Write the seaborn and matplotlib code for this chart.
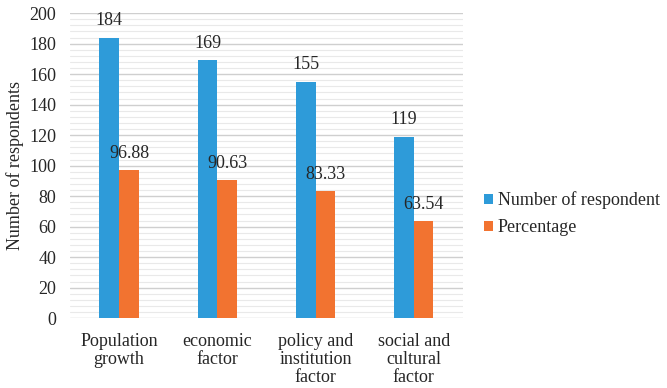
import pandas as pd
import matplotlib.pyplot as plt
import seaborn as sns
from matplotlib.ticker import MultipleLocator

# --- data ---
CATEGORIES = [
    "Population\ngrowth",
    "economic\nfactor",
    "policy and\ninstitution\nfactor",
    "social and\ncultural\nfactor",
]
RESPONDENTS = [184, 169, 155, 119]
PERCENTAGE = [96.88, 90.63, 83.33, 63.54]
SERIES = ["Number of respondent", "Percentage"]

# --- style ---
COLORS = ["#2E9BD9", "#F27330"]
TEXT_COLOR = "#262626"
FS = 13


def main():
    sns.set_style("white")
    plt.rcParams["font.family"] = "serif"
    plt.rcParams["font.serif"] = ["Liberation Serif", "DejaVu Serif"]
    plt.rcParams["text.color"] = TEXT_COLOR

    df = pd.DataFrame({
        "category": CATEGORIES * 2,
        "value": RESPONDENTS + PERCENTAGE,
        "series": [SERIES[0]] * len(CATEGORIES) + [SERIES[1]] * len(CATEGORIES),
    })

    fig = plt.figure(figsize=(6.67, 3.88), dpi=100)
    ax = fig.add_axes([0.105, 0.18, 0.589, 0.786])

    sns.barplot(
        data=df, x="category", y="value", hue="series",
        palette=COLORS, width=0.4, gap=0, saturation=1,
        edgecolor="none", ax=ax, zorder=3,
    )

    for cont, fmt in zip(ax.containers, ["{:.0f}", "{:.2f}"]):
        ax.bar_label(cont, labels=[fmt.format(v) for v in cont.datavalues],
                     padding=6, fontsize=FS, color=TEXT_COLOR)

    ax.set_ylim(0, 200)
    ax.set_xlim(-0.5, 3.5)
    ax.yaxis.set_major_locator(MultipleLocator(20))
    ax.yaxis.set_minor_locator(MultipleLocator(4))
    ax.grid(axis="y", which="major", color="#cfcfcf", linewidth=1.0, zorder=0)
    ax.grid(axis="y", which="minor", color="#e9e9e9", linewidth=0.8, zorder=0)
    ax.set_axisbelow(True)
    for s in ax.spines.values():
        s.set_visible(False)

    ax.tick_params(axis="both", which="both", length=0, labelsize=FS,
                   colors=TEXT_COLOR)
    ax.tick_params(axis="x", pad=11)
    ax.tick_params(axis="y", pad=10)
    for lbl in ax.get_xticklabels():
        lbl.set_linespacing(1.05)
    ax.set_xlabel("")
    ax.set_ylabel("Number of respondents", fontsize=FS, color=TEXT_COLOR,
                  labelpad=4)

    ax.legend(
        loc="center left", bbox_to_anchor=(0.726, 0.449),
        bbox_transform=fig.transFigure, frameon=False, fontsize=FS,
        handlelength=0.5, handleheight=0.5, handletextpad=0.25,
        labelspacing=0.55, borderaxespad=0, borderpad=0,
    )

    fig.savefig("out.png", dpi=100)
    plt.close(fig)


if __name__ == "__main__":
    main()
